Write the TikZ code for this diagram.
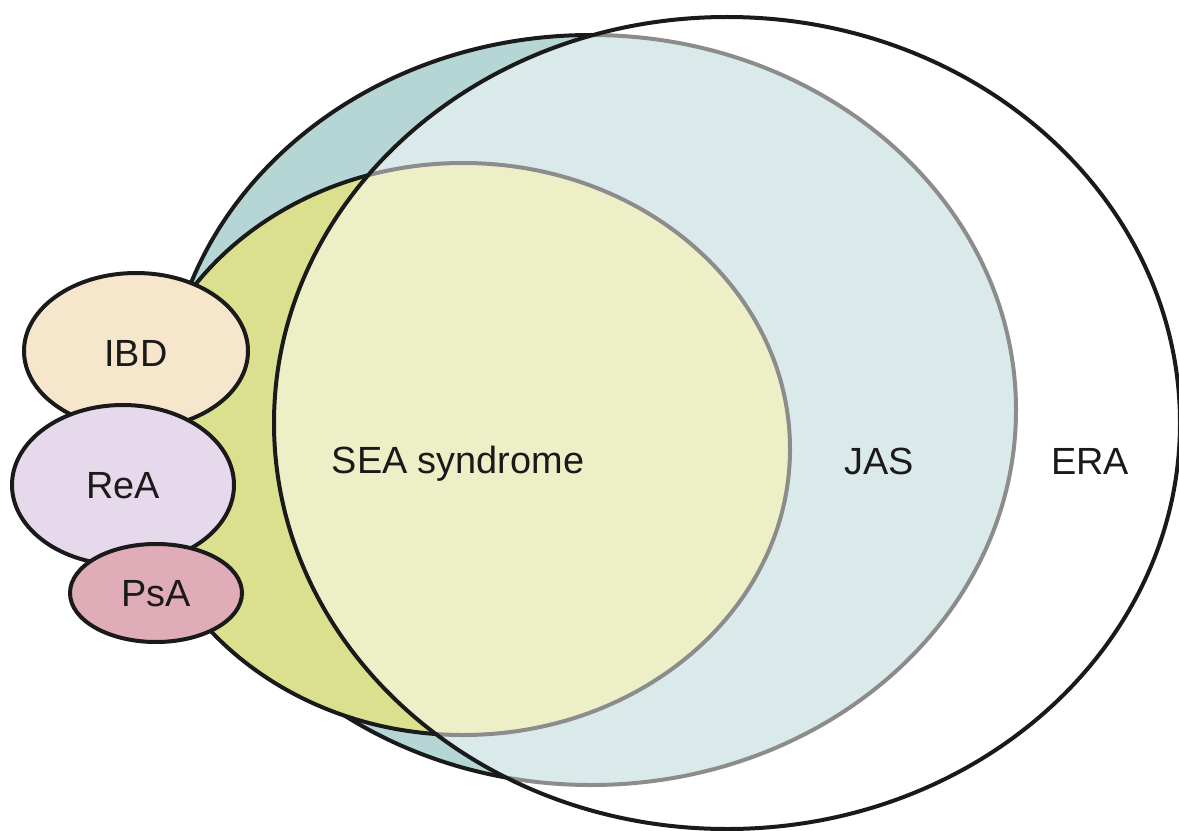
\documentclass[tikz,border=0pt]{standalone}
\usepackage{fontspec}
\setmainfont{Liberation Sans}
\definecolor{jasfill}{HTML}{B6D6D5}
\definecolor{seafill}{HTML}{DBE08F}
\definecolor{ibdfill}{HTML}{F6E7CC}
\definecolor{reafill}{HTML}{E6D9EB}
\definecolor{psafill}{HTML}{DFACB8}
\definecolor{ink}{HTML}{1A1A1A}
\tikzset{
  outline/.style={draw=ink, line width=4bp},
  lbl/.style={inner sep=0pt, anchor=base, text=ink, font=\fontsize{38}{45}\selectfont}
}
\begin{document}
\begin{tikzpicture}[x=1bp,y=-1bp]
\useasboundingbox (0,0) rectangle (1179,831);
% JAS
\path[outline, fill=jasfill] (591,410) ellipse [x radius=425bp, y radius=375bp];
% SEA syndrome
\path[outline, fill=seafill] (463,449) ellipse [x radius=327bp, y radius=286bp];
% ERA (half-transparent white)
\path[fill=white, fill opacity=0.5] (727,423) ellipse [x radius=453bp, y radius=406bp];
\path[outline] (727,423) ellipse [x radius=453bp, y radius=406bp];
% small ellipses
\path[outline, fill=ibdfill] (136,351) ellipse [x radius=112bp, y radius=78bp];
\path[outline, fill=reafill] (123,485) ellipse [x radius=111bp, y radius=80bp];
\path[outline, fill=psafill] (156,593) ellipse [x radius=86bp, y radius=49bp];
% labels
\node[lbl] (sea) at (458,473) {SEA syndrome};
\node[lbl] (jas) at (879,474) {JAS};
\node[lbl] (era) at (1090,474) {ERA};
\node[lbl] (ibd) at (136,366) {IBD};
\node[lbl] (rea) at (123,498) {ReA};
\node[lbl] (psa) at (156,606) {PsA};
\end{tikzpicture}
\end{document}
